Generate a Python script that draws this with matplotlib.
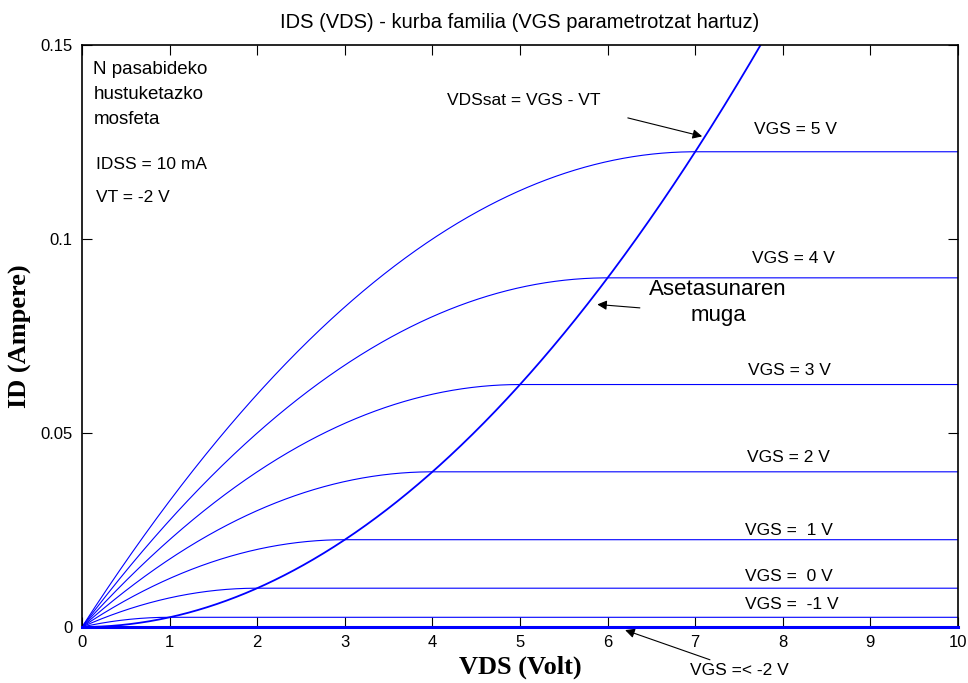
import matplotlib
matplotlib.use("Agg")
import matplotlib.pyplot as plt
import numpy as np

plt.rcParams['font.family'] = ['Liberation Sans', 'DejaVu Sans']

# device parameters (as printed on the plot)
idss = 0.010          # A
vt = -2.0             # V
vgs_values = [5, 4, 3, 2, 1, 0, -1]
vgs_labels = ["VGS = 5 V", "VGS = 4 V", "VGS = 3 V", "VGS = 2 V",
              "VGS =  1 V", "VGS =  0 V", "VGS =  -1 V"]
label_y = [0.1283, 0.0951, 0.066, 0.0438, 0.025, 0.0129, 0.0059]
label_x = [7.67, 7.65, 7.60, 7.59, 7.57, 7.57, 7.57]

vds = np.linspace(0, 10, 1001)
k = idss / vt**2

fig = plt.figure(figsize=(9.68, 6.83), dpi=100)
ax = fig.add_axes([0.0847, 0.082, 0.905, 0.852])

blue = '#0000ff'
for vgs in vgs_values:
    vov = vgs - vt
    id_ = np.where(vds < vov, k * (2 * vov * vds - vds**2), k * vov**2)
    ax.plot(vds, id_, color=blue, lw=0.8)

# cut-off (VGS <= VT)
ax.plot([0, 10], [0, 0], color=blue, lw=2.2, clip_on=False, zorder=5)

# saturation boundary VDSsat = VGS - VT
vsat = np.linspace(0, 10, 1001)
ax.plot(vsat, k * vsat**2, color=blue, lw=1.3)

for x, y, s in zip(label_x, label_y, vgs_labels):
    ax.text(x, y, s, fontsize=12.5, va='center', ha='left')

ax.text(0.13, 0.1458, "N pasabideko\nhustuketazko\nmosfeta", fontsize=13.5,
        va='top', ha='left', linespacing=1.6)
ax.text(0.16, 0.1193, "IDSS = 10 mA", fontsize=12.5, va='center')
ax.text(0.16, 0.1106, "VT = -2 V", fontsize=12.5, va='center')

ax.text(4.17, 0.1358, "VDSsat = VGS - VT", fontsize=12.5, va='center')
ax.annotate("", xy=(7.11, 0.1263), xytext=(6.2, 0.1314),
            arrowprops=dict(arrowstyle='-|>', color='black', lw=0.8,
                            mutation_scale=14))

ax.text(7.26, 0.0869, "Asetasunaren", fontsize=16, va='center', ha='center')
ax.text(7.26, 0.0802, "muga", fontsize=16, va='center', ha='center')
ax.annotate("", xy=(5.85, 0.0832), xytext=(6.40, 0.0822),
            arrowprops=dict(arrowstyle='-|>', color='black', lw=0.8,
                            mutation_scale=14))

ax.annotate("VGS =< -2 V", xy=(6.20, -0.0008), xytext=(6.94, -0.0111),
            fontsize=12.5, va='center', ha='left', annotation_clip=False,
            arrowprops=dict(arrowstyle='-|>', color='black', lw=0.8,
                            mutation_scale=14, shrinkA=0, shrinkB=0))

ax.set_xlim(0, 10)
ax.set_ylim(0, 0.15)
ax.set_xticks(range(0, 11))
ax.set_yticks([0, 0.05, 0.1, 0.15])
ax.set_yticklabels(["0", "0.05", "0.1", "0.15"])
ax.tick_params(direction='in', top=True, right=True, labelsize=12,
               length=7, width=0.8)
ax.tick_params(axis='y', pad=7)
ax.tick_params(axis='x', pad=6)
for sp in ax.spines.values():
    sp.set_linewidth(1.2)

ax.set_title("IDS (VDS) - kurba familia (VGS parametrotzat hartuz)",
             fontsize=14.5, pad=12)
ax.set_xlabel("VDS (Volt)", fontsize=19, fontweight='bold',
              family='Liberation Serif', labelpad=4)
ax.set_ylabel("ID (Ampere)", fontsize=19, fontweight='bold',
              family='Liberation Serif', labelpad=6)

fig.savefig("out.png", dpi=100)
